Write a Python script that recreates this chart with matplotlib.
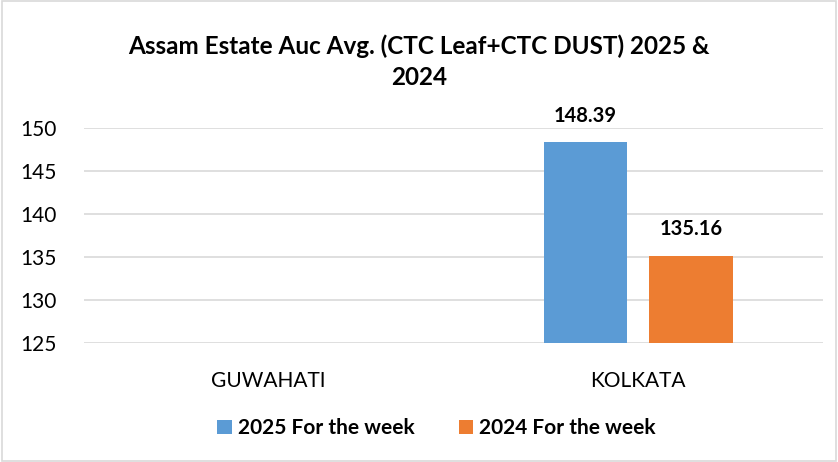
import numpy as np
import matplotlib.pyplot as plt
from matplotlib.patches import Rectangle

plt.rcParams['font.family'] = ['Lato', 'DejaVu Sans']

# data
categories = ['GUWAHATI', 'KOLKATA']
series_names = ['2025 For the week', '2024 For the week']
vals_2025 = [np.nan, 148.39]
vals_2024 = [np.nan, 135.16]
colors = ['#5b9bd5', '#ed7d31']

fig = plt.figure(figsize=(8.38, 4.62), dpi=100)
fig.patches.append(Rectangle((0.002, 0.002), 0.996, 0.996, transform=fig.transFigure,
                             fill=False, edgecolor='#d9d9d9', linewidth=1.2))

ax = fig.add_axes([0.1002, 0.2576, 0.8818, 0.4653])

x = np.arange(len(categories))
w = 0.225
off = 0.143
for i, (vals, name) in enumerate(zip([vals_2025, vals_2024], series_names)):
    pos = x + (-off if i == 0 else off)
    ax.bar(pos, np.array(vals) - 125, bottom=125, width=w,
           color=colors[i], label=name, zorder=3)
    for p, v in zip(pos, vals):
        if not np.isnan(v):
            ax.text(p, v + 1.9, f'{v:.2f}', ha='center', va='bottom',
                    fontsize=14.5, fontweight='bold', color='#000000')

ax.set_xlim(-0.5, 1.5)
ax.set_ylim(125, 150)
ax.set_yticks(np.arange(125, 151, 5))
ax.set_xticks(x)
ax.set_xticklabels(categories)
ax.tick_params(axis='both', length=0, labelsize=15, colors='#000000')
ax.tick_params(axis='x', pad=20)
ax.tick_params(axis='y', pad=20)
ax.grid(axis='y', color='#d9d9d9', linewidth=1.2, zorder=0)
for s in ax.spines.values():
    s.set_visible(False)

fig.suptitle('Assam Estate Auc Avg. (CTC Leaf+CTC DUST) 2025 &\n2024',
             x=0.5, y=0.925, fontsize=17.5, fontweight='bold', linespacing=1.4)

fig.legend(loc='center', bbox_to_anchor=(0.521, 0.073), ncol=2, frameon=False,
           handlelength=0.7, handleheight=0.7, handletextpad=0.3,
           columnspacing=2.1, prop={'size': 15, 'weight': 'bold'})

fig.savefig('out.png', dpi=100)
